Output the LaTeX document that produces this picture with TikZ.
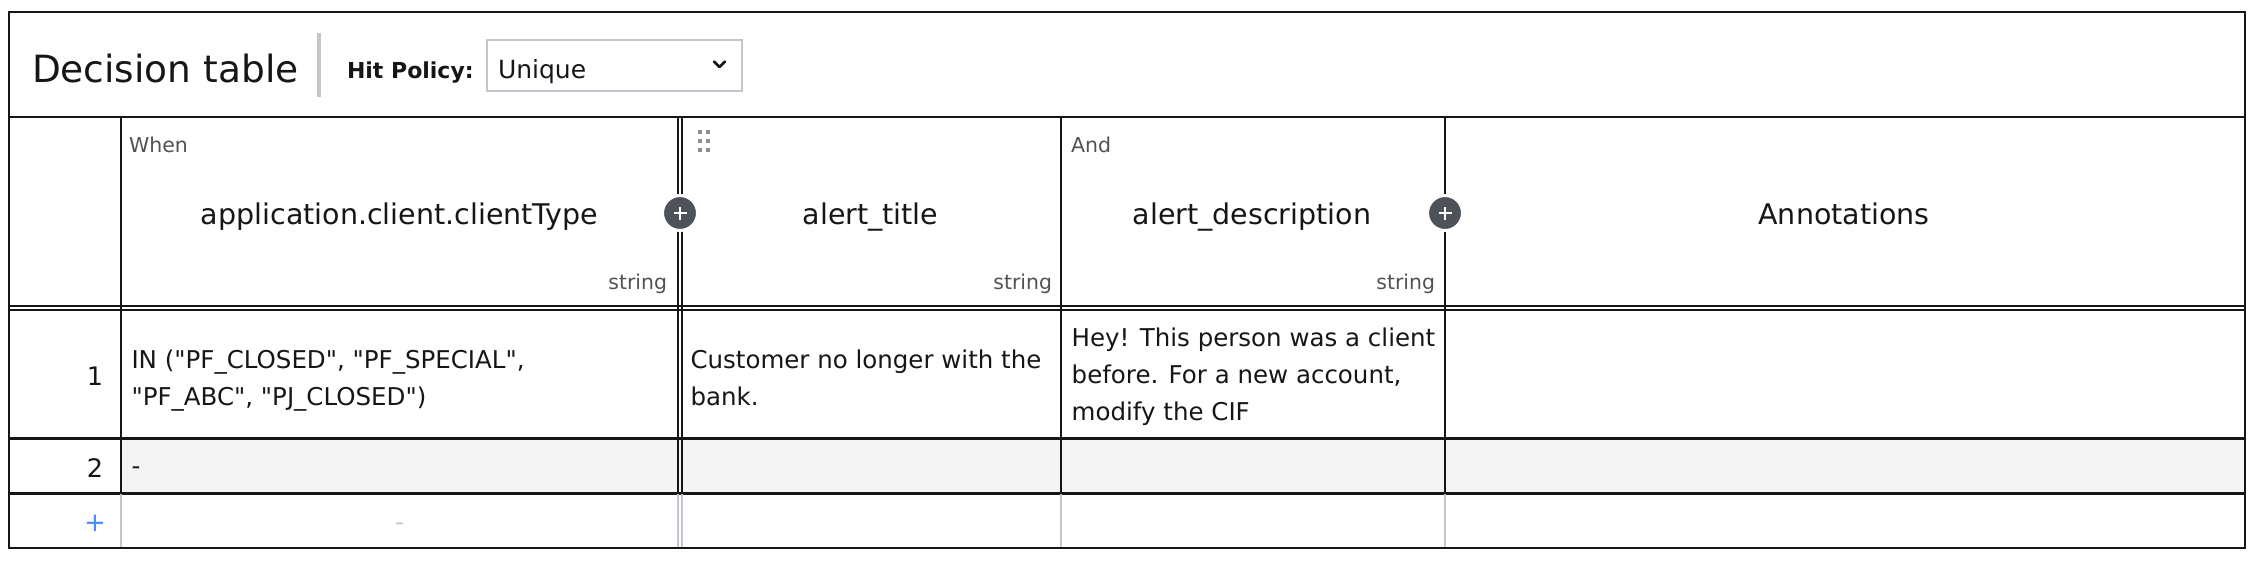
\documentclass[tikz,border=0pt]{standalone}
\usepackage{fontspec}
\setmainfont{DejaVu Sans}
\font\inqfont="DejaVu Sans" at 24.5pt
\definecolor{ink}{HTML}{161616}
\definecolor{subtle}{HTML}{525252}
\definecolor{light}{HTML}{C1C7CD}
\definecolor{rowfill}{HTML}{F4F4F4}
\definecolor{circ}{HTML}{4D5358}
\definecolor{addblue}{HTML}{4589FF}
\definecolor{dotc}{HTML}{8D8D8D}
\begin{document}
\begin{tikzpicture}[x=1pt,y=-1pt,
  every node/.style={inner sep=0pt,outer sep=0pt,text=ink},
  title/.style={font=\fontsize{37.5}{45}\selectfont},
  hit/.style={font=\bfseries\fontsize{22}{26}\selectfont},
  sel/.style={font=\fontsize{25}{30}\selectfont},
  small/.style={font=\fontsize{20.5}{24}\selectfont,text=subtle},
  head/.style={font=\fontsize{28.5}{34}\selectfont},
  typ/.style={font=\fontsize{20.4}{24}\selectfont,text=subtle},
  body/.style={font=\fontsize{24.5}{36.7}\selectfont},
  quoted/.style={font=\inqfont},
  num/.style={font=\fontsize{25.5}{30}\selectfont},
  strong/.style={draw=ink,line width=2.2pt},
  thin/.style={draw=ink,line width=1.5pt},
  faint/.style={draw=light,line width=1.5pt},
  addbtn/.style={circle,fill=circ,draw=white,line width=3pt,minimum size=35pt},
]
\useasboundingbox (0,0) rectangle (2264,566);
% row 2 background
\fill[rowfill] (121,438.5) rectangle (2245,493.5);
% horizontal rules
\draw[strong] (9,117) -- (2245,117);
\draw[thin] (9,306) -- (2245,306);
\draw[thin] (9,310) -- (2245,310);
\draw[strong] (9,438.5) -- (2245,438.5);
\draw[strong] (9,493.5) -- (2245,493.5);
% vertical rules
\draw[strong] (121,117) -- (121,493.5);
\draw[thin] (678,117) -- (678,493.5);
\draw[thin] (682,117) -- (682,493.5);
\draw[thin] (1061,117) -- (1061,493.5);
\draw[thin] (1445,117) -- (1445,493.5);
\draw[faint] (121,493.5) -- (121,548);
\draw[faint] (678,493.5) -- (678,548);
\draw[faint] (682,493.5) -- (682,548);
\draw[faint] (1061,493.5) -- (1061,548);
\draw[faint] (1445,493.5) -- (1445,548);
% outer border
\draw[strong] (9,12.3) rectangle (2245,548.3);
% title bar
\node[title,anchor=base west] (ttl) at (32,82) {Decision table};
\fill[light] (317,33) rectangle (321,97);
\node[hit,anchor=base west] (hp) at (347,78) {Hit Policy:};
\draw[draw=light,line width=2pt] (487,40) rectangle (742,91);
\node[sel,anchor=base west] (hpv) at (498,78) {Unique};
\draw[ink,line width=2.6pt,line cap=round,line join=round] (714,61.5) -- (719.5,67) -- (725,61.5);
% header
\node[small,anchor=base west] (when) at (129,152) {When};
\node[small,anchor=base west] (and) at (1071,152) {And};
\foreach \dx in {699.5,708}
  \foreach \dy in {132,141,150}
    \fill[dotc] (\dx-2,\dy-2) rectangle (\dx+2,\dy+2);
\node[head,anchor=base] (h1) at (399.5,224) {application.client.clientType};
\node[head,anchor=base] (h2) at (870.5,224) {alert\_title};
\node[head,anchor=base] (h3) at (1252,224) {alert\_description};
\node[head,anchor=base] (h4) at (1844,224) {Annotations};
\node[typ,anchor=base east] (t1) at (667,289) {string};
\node[typ,anchor=base east] (t2) at (1052,289) {string};
\node[typ,anchor=base east] (t3) at (1435,289) {string};
\node[addbtn] (addA) at (680,213) {};
\node[addbtn] (addB) at (1445,213) {};
\foreach \b in {addA,addB}{
  \draw[white,line width=2.5pt] ([xshift=-6.5pt]\b.center) -- ([xshift=6.5pt]\b.center);
  \draw[white,line width=2.5pt] ([yshift=-6.5pt]\b.center) -- ([yshift=6.5pt]\b.center);
}
% row 1
\node[num,anchor=base] (n1) at (95,385) {1};
\node[quoted,anchor=base west] (c11a) at (131.5,368.5) {IN ("PF\_CLOSED", "PF\_SPECIAL",};
\node[quoted,anchor=base west] (c11b) at (131.5,405) {"PF\_ABC", "PJ\_CLOSED")};
\node[body,anchor=base west] (c12a) at (690.5,368.5) {Customer no longer with the};
\node[body,anchor=base west] (c12b) at (690.5,405) {bank.};
\node[body,anchor=base west] (c13a) at (1071.7,346.7) {Hey! This person was a client};
\node[body,anchor=base west] (c13b) at (1071.7,383.3) {before. For a new account,};
\node[body,anchor=base west] (c13c) at (1071.7,420) {modify the CIF};
% row 2
\node[num,anchor=base] (n2) at (95,477) {2};
\node[body,anchor=base west] (c21) at (131.5,474.7) {-};
% row 3
\node[num,anchor=base,text=addblue,font=\fontsize{26}{30}\selectfont] (addrow) at (95,531) {+};
\node[body,anchor=base,text=light] (c31) at (399.5,530) {-};
\end{tikzpicture}
\end{document}
